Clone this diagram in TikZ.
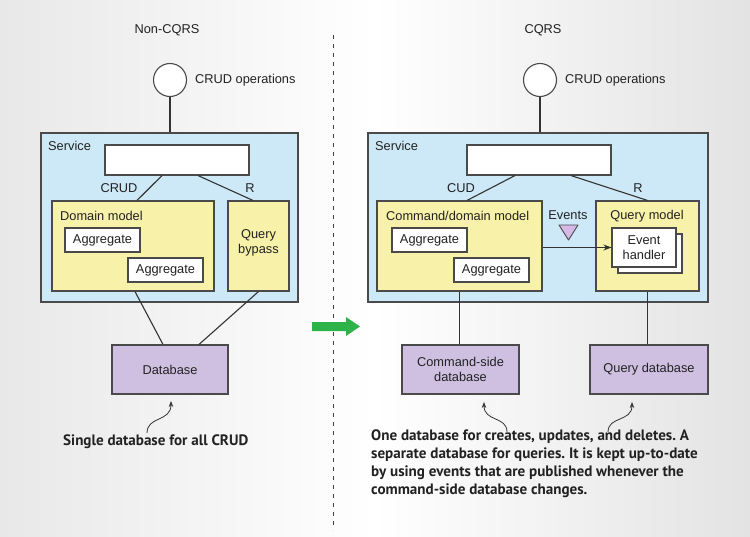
\documentclass[tikz,border=0pt]{standalone}
\usepackage{fontspec}
\setmainfont{Liberation Sans}
\newfontfamily\capfont{PT Sans}
\usetikzlibrary{calc,arrows.meta}
\definecolor{svcblue}{HTML}{CDE8F6}
\definecolor{yelfill}{HTML}{F7F1A9}
\definecolor{dbfill}{HTML}{CFC0E2}
\definecolor{trifill}{HTML}{D6B9E7}
\definecolor{boxline}{HTML}{4A4A4A}
\definecolor{connline}{HTML}{333333}
\definecolor{arrgreen}{HTML}{2DB34A}
\definecolor{txt}{HTML}{222222}
\frenchspacing
\begin{document}
\begin{tikzpicture}[x=1pt,y=-1pt,
  box/.style={draw=boxline, line width=1.1pt, inner sep=0pt, align=center, text=txt,
    font=\fontsize{12.8}{15}\selectfont},
  svc/.style={box, fill=svcblue},
  yel/.style={box, fill=yelfill},
  wht/.style={box, fill=white},
  dbs/.style={box, fill=dbfill},
  lbl/.style={font=\fontsize{12.8}{15}\selectfont, inner sep=0pt, text=txt, align=center},
  conn/.style={draw=connline, line width=1.1pt},
  note/.style={draw=connline, line width=0.8pt, -{Stealth[length=6pt,width=4.5pt]}},
  captxt/.style={font=\capfont\bfseries\fontsize{15.1}{18}\selectfont, align=left, inner sep=0pt, text=txt},
  opc/.style={circle, draw=boxline, line width=1.1pt, fill=white, minimum size=33pt, inner sep=0pt}
]
\useasboundingbox (0,0) rectangle (750,536);
\shade[left color=black!9, right color=black!11, middle color=white] (0,0) rectangle (750,536);

% divider
\draw[black!75, line width=1pt, dash pattern=on 4pt off 5pt] (333,35) -- (333,530);

% ---------- Left: Non-CQRS ----------
\node[lbl] (titleL) at (167,30) {Non-CQRS};
\node[opc] (opL) at (170,80) {};
\node[lbl, anchor=west] (opLlbl) at (195,80) {CRUD operations};
\node[svc, minimum width=257pt, minimum height=169pt] (svcL) at (169.5,217.5) {};
\node[lbl, anchor=west] (svcLlbl) at (48,146) {Service};
\node[wht, minimum width=144pt, minimum height=30pt] (topL) at (177,160) {};
\node[yel, minimum width=162pt, minimum height=90pt] (domL) at (133,246) {};
\node[lbl, anchor=west] (domLlbl) at (60,216) {Domain model};
\node[wht, minimum width=75pt, minimum height=24pt] (agg1L) at (102.5,240) {Aggregate};
\node[wht, minimum width=75pt, minimum height=24pt] (agg2L) at (165.5,270) {Aggregate};
\node[yel, minimum width=61pt, minimum height=90pt] (qbL) at (258.5,246) {};
\node[lbl] (qbLlbl) at (258.5,243) {Query\\bypass};
\node[dbs, minimum width=116pt, minimum height=49pt] (dbL) at (170,369.5) {Database};
\node[lbl] (crudL) at (119,188) {CRUD};
\node[lbl] (rL) at (250,188) {R};

\draw[conn] (opL.south) -- (opL.south |- svcL.north);
\draw[conn] ([xshift=-15pt]topL.south) -- ([xshift=4pt]domL.north);
\draw[conn] ([xshift=21pt]topL.south) -- ([xshift=-5.5pt]qbL.north);
\draw[conn] ([xshift=2pt]domL.south) -- ([xshift=-7pt]dbL.north);
\draw[conn] (qbL.south) -- ([xshift=29pt]dbL.north);

\node[captxt, anchor=west] (capL) at (63,442) {Single database for all CRUD};
\coordinate (nL0) at (147,433);
\coordinate (nL1) at (171,401);
\draw[note] (nL0) .. controls (147,416) and (171,422) .. (nL1);

% green arrow
\fill[arrgreen] (312,322) -- (346,322) -- (346,317) -- (360,326.5) -- (346,336) -- (346,331) -- (312,331) -- cycle;

% ---------- Right: CQRS ----------
\node[lbl] (titleR) at (543,30) {CQRS};
\node[opc] (opR) at (540,80) {};
\node[lbl, anchor=west] (opRlbl) at (565,80) {CRUD operations};
\node[svc, minimum width=340pt, minimum height=169pt] (svcR) at (538,217.5) {};
\node[lbl, anchor=west] (svcRlbl) at (375,146) {Service};
\node[wht, minimum width=144pt, minimum height=30pt] (topR) at (539,160) {};
\node[yel, minimum width=165pt, minimum height=90pt] (cmdR) at (459.5,246) {};
\node[lbl, anchor=west] (cmdRlbl) at (386,216) {Command/domain model};
\node[wht, minimum width=75pt, minimum height=24pt] (agg1R) at (429.5,240) {Aggregate};
\node[wht, minimum width=75pt, minimum height=24pt] (agg2R) at (491.5,270) {Aggregate};
\node[yel, minimum width=103pt, minimum height=90pt] (qmR) at (647.5,246) {};
\node[lbl] (qmRlbl) at (647,216) {Query model};
\node[wht, minimum width=64pt, minimum height=39pt] (ehBack) at (650,253.5) {};
\node[wht, minimum width=64pt, minimum height=39pt] (ehR) at (644,247.5) {Event\\handler};
\node[lbl] (evlbl) at (568,215) {Events};
\draw[fill=trifill, draw=boxline, line width=0.9pt, line join=round] (559,225) -- (578,225) -- (568.5,240) -- cycle;
\node[dbs, minimum width=117pt, minimum height=49pt] (dbC) at (460.5,369.5) {Command-side\\database};
\node[dbs, minimum width=118pt, minimum height=49pt] (dbQ) at (649,369.5) {Query database};
\node[lbl] (cudR) at (461,188) {CUD};
\node[lbl] (rR) at (638,188) {R};

\draw[conn] (opR.south) -- (opR.south |- svcR.north);
\draw[conn] ([xshift=-24pt]topR.south) -- ([xshift=7.5pt]cmdR.north);
\draw[conn] ([xshift=32pt]topR.south) -- (qmR.north);
\draw[conn, -{Stealth[length=8pt,width=6pt]}] (cmdR.east |- ehR.west) -- (ehR.west);
\draw[conn] (cmdR.south) -- (cmdR.south |- dbC.north);
\draw[conn] (qmR.south) -- (qmR.south |- dbQ.north);

\node[captxt, anchor=north west] (capR) at (371,430) {One database for creates, updates, and deletes. A\\separate database for queries. It is kept up-to-date\\by using events that are published whenever the\\command-side database changes.};
\coordinate (nC0) at (507,432);
\coordinate (nC1) at (484,402);
\draw[note] (nC0) .. controls (507,416) and (484,422) .. (nC1);
\coordinate (nQ0) at (608,432);
\coordinate (nQ1) at (632,402);
\draw[note] (nQ0) .. controls (608,416) and (632,422) .. (nQ1);
\end{tikzpicture}
\end{document}
